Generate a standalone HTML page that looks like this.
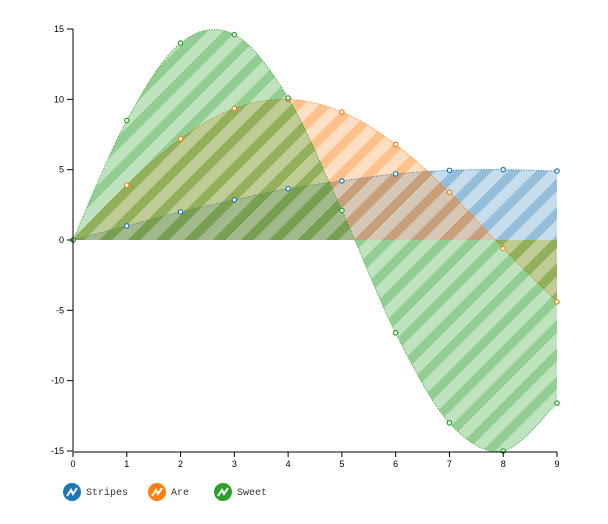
<!DOCTYPE html>
<html><head><meta charset="utf-8"><style>
body{margin:0;background:#fff}
svg{display:block;font-family:"Liberation Sans",sans-serif}
.tk{font-size:9px;fill:#000}
.lg{font-family:"Liberation Mono",monospace;font-size:10px;fill:#333}
</style></head><body>
<svg id="c" width="608" height="524">
<defs>
<pattern id="p0" width="20" height="20" patternUnits="userSpaceOnUse" patternTransform="rotate(45)"><rect width="20" height="20" fill="#1f77b4" fill-opacity="0.25"/><rect width="9" height="20" fill="#1f77b4" fill-opacity="0.3"/></pattern>
<pattern id="p1" width="20" height="20" patternUnits="userSpaceOnUse" patternTransform="rotate(45)"><rect width="20" height="20" fill="#ff7f0e" fill-opacity="0.25"/><rect width="9" height="20" fill="#ff7f0e" fill-opacity="0.3"/></pattern>
<pattern id="p2" width="20" height="20" patternUnits="userSpaceOnUse" patternTransform="rotate(45)"><rect width="20" height="20" fill="#2ca02c" fill-opacity="0.3"/><rect width="9" height="20" fill="#2ca02c" fill-opacity="0.3"/></pattern>
</defs>
</svg>
<script>
const categories=[0,1,2,3,4,5,6,7,8,9];
const stripes=[0,1,2,2.85,3.65,4.2,4.7,4.95,5,4.9];
const are=[0,3.9,7.2,9.35,10,9.1,6.8,3.4,-0.6,-4.4];
const sweet=[0,8.5,14,14.6,10.1,2.1,-6.6,-13,-15,-11.6];
const yTicks=[-15,-10,-5,0,5,10,15];
const seriesNames=["Stripes","Are","Sweet"];
const colors=["#1f77b4","#ff7f0e","#2ca02c"];
const svg=document.getElementById('c');
const NS="http://www.w3.org/2000/svg";
const X=v=>73+v*(557-73)/9;
const Y=v=>240-v*(211/15);
function mk(t,a,p){const e=document.createElementNS(NS,t);for(const k in a)e.setAttribute(k,a[k]);(p||svg).appendChild(e);return e;}
function curve(pts){let d="M"+pts[0][0]+","+pts[0][1];for(let i=0;i<pts.length-1;i++){const p0=pts[Math.max(i-1,0)],p1=pts[i],p2=pts[i+1],p3=pts[Math.min(i+2,pts.length-1)];const c1=[p1[0]+(p2[0]-p0[0])/6,p1[1]+(p2[1]-p0[1])/6],c2=[p2[0]-(p3[0]-p1[0])/6,p2[1]-(p3[1]-p1[1])/6];d+="C"+c1+" "+c2+" "+p2;}return d;}
const all=[stripes,are,sweet];
all.forEach((s,i)=>{const pts=s.map((v,j)=>[X(categories[j]),Y(v)]);const c=curve(pts);
const a=mk('path',{d:c+"L"+X(categories[categories.length-1])+","+Y(0)+"L"+X(0)+","+Y(0)+"Z",fill:"url(#p"+i+")"});


const l=mk('path',{d:c,fill:"none",stroke:colors[i],"stroke-width":1,"stroke-dasharray":"1,1.5"});


});
all.forEach((s,i)=>{s.forEach((v,j)=>{const p=mk('circle',{cx:X(categories[j]),cy:Y(v),r:2.2,fill:"#fff",stroke:colors[i],"stroke-width":1.2});

});});
const ax=mk('g',{});
mk('line',{x1:73,x2:73,y1:Y(15),y2:Y(-15),stroke:"#000"},ax);
yTicks.forEach(t=>{mk('line',{x1:67,x2:73,y1:Y(t),y2:Y(t),stroke:"#000"},ax);const tx=mk('text',{x:64,y:Y(t)+3,"text-anchor":"end",class:"tk"},ax);tx.textContent=t;});
const bx=mk('g',{});
mk('line',{x1:X(0),x2:X(9),y1:452,y2:452,stroke:"#000"},bx);
categories.forEach(t=>{mk('line',{x1:X(t),x2:X(t),y1:452,y2:457,stroke:"#000"},bx);const tx=mk('text',{x:X(t),y:467,"text-anchor":"middle",class:"tk"},bx);tx.textContent=t;});
const lx=[72,157,223];
seriesNames.forEach((n,i)=>{const g=mk('g',{});
mk('circle',{cx:lx[i],cy:492,r:9,fill:colors[i]},g);
mk('path',{d:`M${lx[i]-5},${496}L${lx[i]-1},${490}L${lx[i]+1},${494}L${lx[i]+5},${488}`,fill:"none",stroke:"#fff","stroke-width":2},g);
const t=mk('text',{x:lx[i]+14,y:495,class:"lg"},g);t.textContent=n;});
</script>
</body></html>
